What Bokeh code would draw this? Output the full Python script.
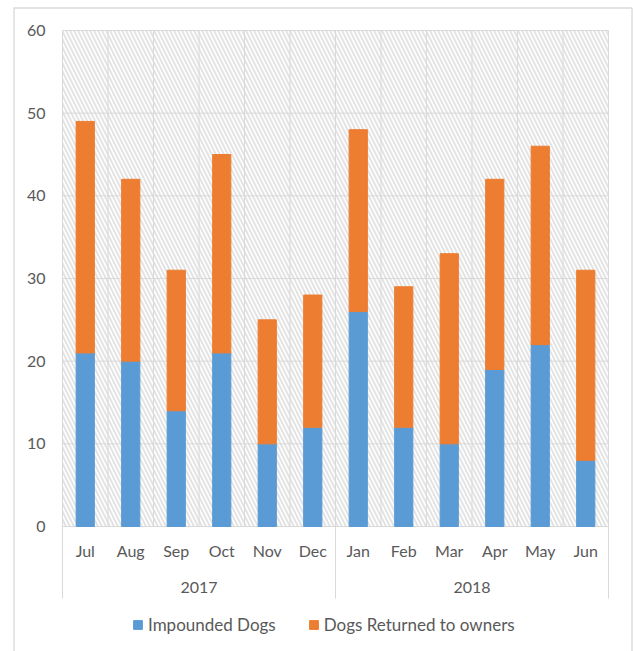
from bokeh.plotting import figure
from bokeh.models import (ColumnDataSource, Range1d, FixedTicker, LinearAxis,
                          BoxAnnotation, Legend, LegendItem)
from bokeh.core.properties import value
from bokeh.embed import file_html
from bokeh.resources import INLINE

# ---- data ----
years = ["2017", "2017", "2017", "2017", "2017", "2017",
         "2018", "2018", "2018", "2018", "2018", "2018"]
months = ["Jul", "Aug", "Sep", "Oct", "Nov", "Dec",
          "Jan", "Feb", "Mar", "Apr", "May", "Jun"]
impounded = [21, 20, 14, 21, 10, 12, 26, 12, 10, 19, 22, 8]
returned = [28, 22, 17, 24, 15, 16, 22, 17, 23, 23, 24, 23]
series_names = ["Impounded Dogs", "Dogs Returned to owners"]
y_ticks = [0, 10, 20, 30, 40, 50, 60]

# ---- style ----
BLUE = "#5B9BD5"
ORANGE = "#ED7D31"
GRID = "#D9D9D9"
TEXT = "#595959"
FONT = "Lato"
FS = "16px"

# ---- layout (canvas pixels) ----
W, H = 635, 651
L_PX, R_PX, T_PX, B_PX = 62, 608, 30, 526      # plot area
n = len(months)
SX = (R_PX - L_PX) / n
SY = (B_PX - T_PX) / (y_ticks[-1] - y_ticks[0])
x_start = -L_PX / SX
x_end = n + (W - R_PX) / SX
y_end = y_ticks[-1] + T_PX / SY
y_start = y_ticks[0] - (H - B_PX) / SY


def dx(px):
    return x_start + px / SX


def dy(py):
    return y_end - py / SY


pos = [i + 0.5 for i in range(n)]
source = ColumnDataSource(dict(x=pos, month=months, impounded=impounded, returned=returned))

year_factors = list(dict.fromkeys(years))
boundaries = [0] + [i for i in range(1, n) if years[i] != years[i - 1]] + [n]
year_pos = [(boundaries[k] + boundaries[k + 1]) / 2 for k in range(len(year_factors))]

p = figure(width=W, height=H, min_border=0,
           x_range=Range1d(x_start, x_end), y_range=Range1d(y_start, y_end),
           x_axis_location=None, y_axis_location=None,
           output_backend="svg", toolbar_location=None)
p.background_fill_color = "white"
p.border_fill_color = "white"
p.outline_line_color = None
p.xgrid.visible = False
p.ygrid.visible = False

# hatched plot area
p.add_layout(BoxAnnotation(left=0, right=n, bottom=y_ticks[0], top=y_ticks[-1],
                           fill_color="white", fill_alpha=1, line_color=None,
                           hatch_pattern="\\", hatch_color="#E3E3E3", hatch_scale=8,
                           hatch_weight=2, level="image"))

# gridlines
p.segment(x0=[0] * len(y_ticks), x1=[n] * len(y_ticks), y0=y_ticks, y1=y_ticks,
          line_color=GRID, line_width=1)
p.segment(x0=list(range(n + 1)), x1=list(range(n + 1)),
          y0=[y_ticks[0]] * (n + 1), y1=[y_ticks[-1]] * (n + 1),
          line_color=GRID, line_width=1)
# group separators under the axis
p.segment(x0=boundaries, x1=boundaries, y0=[y_ticks[0]] * len(boundaries),
          y1=[dy(598)] * len(boundaries), line_color=GRID, line_width=1)

# bars
rs = p.vbar_stack(["impounded", "returned"], x="x", width=0.4,
                  color=[BLUE, ORANGE], source=source)

# y axis
yaxis = LinearAxis(fixed_location=0, ticker=FixedTicker(ticks=y_ticks),
                   axis_line_color=None, major_tick_line_color=None,
                   major_tick_out=0, major_tick_in=0,
                   minor_tick_line_color=None, minor_tick_out=0, minor_tick_in=0,
                   major_label_standoff=17,
                   major_label_text_font=FONT, major_label_text_font_size=FS,
                   major_label_text_color=TEXT)
p.add_layout(yaxis, "left")

# month and year labels
p.text(x="x", y=y_ticks[0], text="month", source=source, y_offset=24,
       text_align="center", text_baseline="middle", text_font=value(FONT),
       text_font_size=FS, text_color=TEXT)
p.text(x=year_pos, y=[y_ticks[0]] * len(year_pos), text=year_factors, y_offset=61,
       text_align="center", text_baseline="middle", text_font=value(FONT),
       text_font_size=FS, text_color=TEXT)

# outer chart border
p.line(x=[dx(13.5), dx(13.5), dx(631.5), dx(631.5)],
       y=[dy(H + 5), dy(7.5), dy(7.5), dy(H + 5)],
       line_color=GRID, line_width=1.3)

legend = Legend(items=[LegendItem(label=series_names[i], renderers=[rs[i]]) for i in range(2)],
                orientation="horizontal", location=(132, 16),
                border_line_color=None, background_fill_alpha=0,
                label_text_font=FONT, label_text_font_size="17px", label_text_color=TEXT,
                glyph_width=11, glyph_height=11, label_standoff=5, spacing=32,
                padding=2, margin=0)
p.add_layout(legend)

open("out.html", "w").write(file_html(p, INLINE))
